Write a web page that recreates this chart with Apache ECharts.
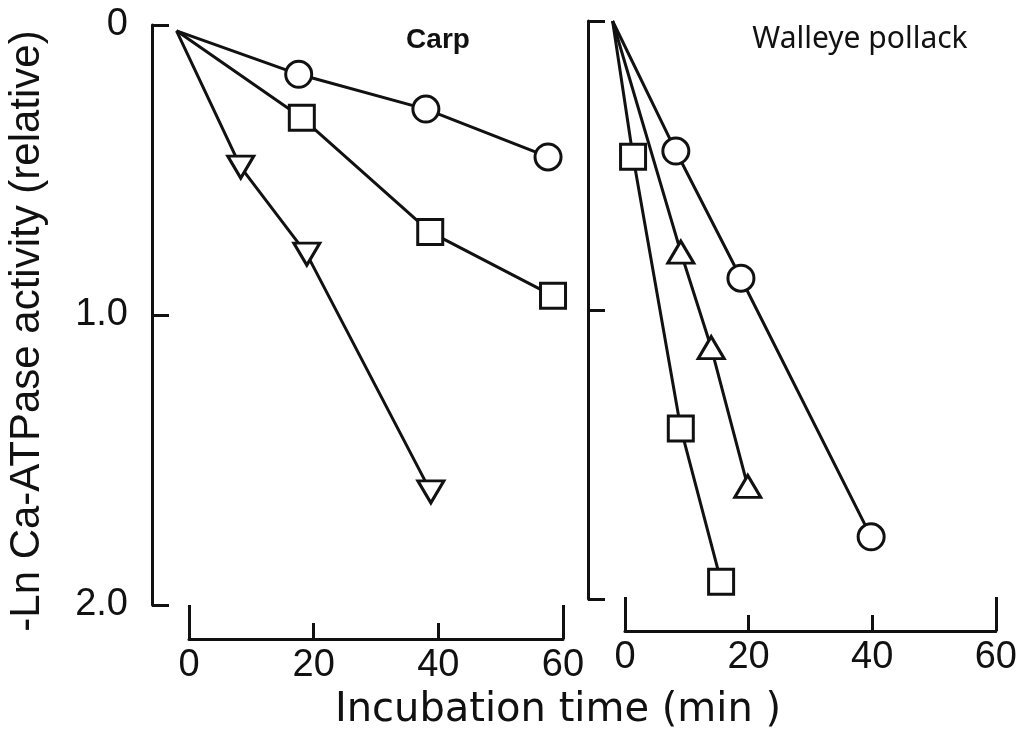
<!DOCTYPE html>
<html>
<head>
<meta charset="utf-8">
<script src="https://cdn.jsdelivr.net/npm/echarts@6/dist/echarts.min.js"></script>
<style>
  html, body { margin: 0; padding: 0; background: #fff; }
  #chart { width: 1020px; height: 742px; }
</style>
</head>
<body>
<div id="chart"></div>
<script>
// Incubation time (min) vs -ln relative Ca-ATPase activity
const xTicks = [0, 20, 40, 60];
const yTickLabels = ['0', '1.0', '2.0'];

// Carp
const carpCircle   = [[-2, 0.02], [17.6, 0.17], [38.0, 0.29], [57.6, 0.455]];
const carpSquare   = [[-2, 0.02], [18.1, 0.32], [38.7, 0.714], [58.4, 0.934]];
const carpTriangle = [[-2, 0.02], [8.3, 0.49], [18.9, 0.79], [38.8, 1.61]];

// Walleye pollack
const pollackCircle   = [[-2, 0.0], [8.2, 0.45], [18.7, 0.89], [39.7, 1.785]];
const pollackTriangle = [[-2, 0.0], [9.0, 0.80], [13.9, 1.13], [19.8, 1.61]];
const pollackSquare   = [[-2, 0.0], [1.3, 0.47], [9.0, 1.41], [15.5, 1.94]];

const INK = '#111';
const LABEL_FONT = 'Liberation Sans';

// Panel frames: visible axes run 0–60 min and 0–2.0
const panels = [
  { left: 189, top: 25, width: 374, height: 580, xOffset: 34 },
  { left: 625, top: 21, width: 372, height: 578, xOffset: 32 }
];
// Plotting space extends 10 min left of the visible x axis so the
// lines can start just before t = 0
const X_LEAD = 10;

function xAxisMain(gridIndex, offset) {
  return {
    type: 'value', gridIndex, position: 'bottom', offset,
    min: xTicks[0], max: xTicks[xTicks.length - 1], interval: 20,
    splitLine: { show: false },
    axisLine: { show: true, onZero: false, lineStyle: { color: INK, width: 3 } },
    axisTick: { show: true, inside: true, length: 16, lineStyle: { color: INK, width: 3 } },
    axisLabel: { show: true, margin: 8, color: INK, fontSize: 38, fontFamily: LABEL_FONT }
  };
}
// End ticks are drawn taller
function xAxisEnds(gridIndex, offset) {
  return {
    type: 'value', gridIndex, position: 'bottom', offset,
    min: 0, max: 60, interval: 60,
    splitLine: { show: false },
    axisLine: { show: false, onZero: false },
    axisTick: { show: true, inside: true, length: 34, lineStyle: { color: INK, width: 3 } },
    axisLabel: { show: false }
  };
}
function yAxis(gridIndex, offset, showLabels) {
  return {
    type: 'value', gridIndex, position: 'left', offset, inverse: true,
    min: 0, max: 2, interval: 1,
    splitLine: { show: false },
    axisLine: { show: true, onZero: false, lineStyle: { color: INK, width: 3 } },
    axisTick: { show: true, inside: true, length: 17, lineStyle: { color: INK, width: 3 } },
    axisLabel: {
      show: showLabels, margin: 24, color: INK, fontSize: 38, fontFamily: LABEL_FONT,
      formatter: (v) => yTickLabels[Math.round(v)]
    }
  };
}
function hiddenX(gridIndex) {
  return { type: 'value', gridIndex, show: false, min: -X_LEAD, max: 60 };
}
function hiddenY(gridIndex) {
  return { type: 'value', gridIndex, show: false, inverse: true, min: 0, max: 2 };
}

function series(data, panel, symbol, size, rotate) {
  return {
    type: 'line',
    // the shared starting point carries no marker
    data: data.map((p, i) => i === 0 ? { value: p, symbol: 'none' } : p),
    xAxisIndex: 4 + panel,
    yAxisIndex: 2 + panel,
    clip: false,
    symbol, symbolSize: size, symbolRotate: rotate || 0,
    showAllSymbol: true,
    lineStyle: { color: INK, width: 3 },
    itemStyle: { color: '#fff', borderColor: INK, borderWidth: 3 },
    emphasis: { disabled: true },
    animation: false,
    z: 3
  };
}

const grids = panels.map(p => ({ left: p.left, top: p.top, width: p.width, height: p.height }));
panels.forEach(p => {
  const pxPerMin = p.width / 60;
  grids.push({
    left: p.left - X_LEAD * pxPerMin, top: p.top,
    width: p.width + X_LEAD * pxPerMin, height: p.height
  });
});

const chart = echarts.init(document.getElementById('chart'), null, { renderer: 'canvas' });
chart.setOption({
  backgroundColor: '#fff',
  animation: false,
  grid: grids,
  xAxis: [
    xAxisMain(0, panels[0].xOffset), xAxisEnds(0, panels[0].xOffset),
    xAxisMain(1, panels[1].xOffset), xAxisEnds(1, panels[1].xOffset),
    hiddenX(2), hiddenX(3)
  ],
  yAxis: [
    yAxis(0, 37, true),
    yAxis(1, 37, false),
    hiddenY(2), hiddenY(3)
  ],
  series: [
    series(carpCircle, 0, 'circle', 26),
    series(carpSquare, 0, 'rect', 25),
    series(carpTriangle, 0, 'triangle', [26, 22], 180),
    series(pollackCircle, 1, 'circle', 26),
    series(pollackTriangle, 1, 'triangle', [26, 22]),
    series(pollackSquare, 1, 'rect', 25)
  ],
  graphic: [
    {
      type: 'text', x: 27, y: 331, rotation: Math.PI / 2,
      style: {
        text: '-Ln Ca-ATPase activity (relative)',
        font: '42px "Liberation Sans"', fill: INK,
        textAlign: 'center', textVerticalAlign: 'middle'
      }
    },
    {
      type: 'text', x: 558, y: 711,
      style: {
        text: 'Incubation time (min )',
        font: '40px "DejaVu Sans"', fill: INK,
        textAlign: 'center', textVerticalAlign: 'middle'
      }
    },
    {
      type: 'text', x: 438, y: 40,
      style: {
        text: 'Carp',
        font: 'bold 28px "Liberation Sans"', fill: INK,
        textAlign: 'center', textVerticalAlign: 'middle'
      }
    },
    {
      type: 'text', x: 860, y: 39,
      style: {
        text: 'Walleye pollack',
        font: '30px "Noto Sans"', fill: INK,
        textAlign: 'center', textVerticalAlign: 'middle'
      }
    }
  ]
});
</script>
</body>
</html>
